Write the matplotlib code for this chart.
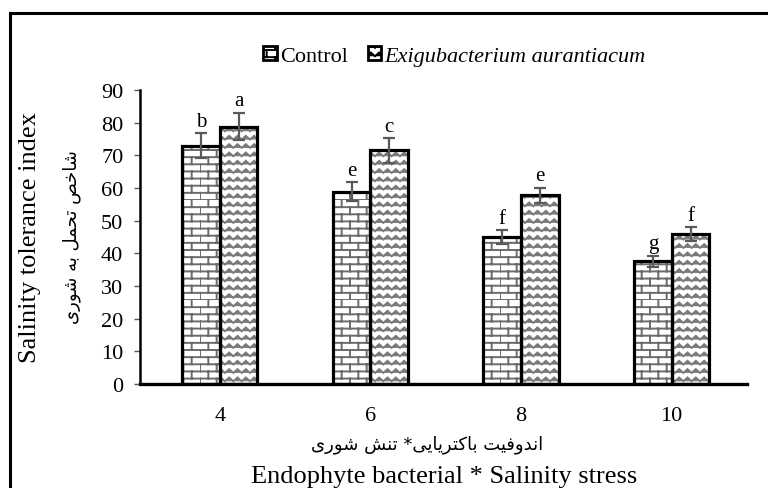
import warnings
import numpy as np
import matplotlib
matplotlib.use("Agg")
import matplotlib.pyplot as plt
from matplotlib import hatch as mhatch
from matplotlib.path import Path
from matplotlib.patches import Patch
from matplotlib.lines import Line2D

warnings.filterwarnings("ignore")

## data
salinity = ["4", "6", "8", "10"]
control = [73.0, 58.8, 45.0, 37.6]
control_err = [3.7, 2.9, 2.1, 1.7]
control_letters = ["b", "e", "f", "g"]
exig = [78.8, 71.5, 57.8, 45.9]
exig_err = [4.2, 3.7, 2.3, 2.1]
exig_letters = ["a", "c", "e", "f"]
series_names = ["Control", "Exigubacterium aurantiacum"]
yticks = [0, 10, 20, 30, 40, 50, 60, 70, 80, 90]


## custom hatches: excel style bricks ('k') and zig zag ('z')
class BrickHatch(mhatch.HatchPatternBase):
    def __init__(self, hatch, density):
        n = hatch.count('k')
        self.rows = 13 * n + (13 * n) % 2
        self.cols = 6 * n
        self.num_vertices = (self.rows + self.rows * self.cols) * 2

    def set_vertices_and_codes(self, vertices, codes):
        v = []
        for i in range(self.rows):
            y0 = i / self.rows
            y1 = (i + 1) / self.rows
            v += [(0, y0), (1, y0)]
            off = 0.5 / self.cols if i % 2 else 0.0
            for j in range(self.cols):
                xx = j / self.cols + off
                v += [(xx, y0), (xx, y1)]
        vertices[:] = v
        codes[0::2] = Path.MOVETO
        codes[1::2] = Path.LINETO


class ZigzagHatch(mhatch.HatchPatternBase):
    def __init__(self, hatch, density):
        n = hatch.count('z')
        self.rows = 12 * n
        self.teeth = 12 * n
        self.num_vertices = self.rows * (2 * self.teeth + 1)

    def set_vertices_and_codes(self, vertices, codes):
        xs = np.linspace(0, 1, 2 * self.teeth + 1)
        amp = 0.45 / max(self.rows, 1)
        m = len(xs)
        k = 0
        for i in range(self.rows):
            y = (i + 0.25) / self.rows
            vertices[k:k + m, 0] = xs
            vertices[k:k + m, 1] = y + amp * (np.arange(m) % 2)
            codes[k] = Path.MOVETO
            codes[k + 1:k + m] = Path.LINETO
            k += m


mhatch._hatch_types.append(BrickHatch)
mhatch._hatch_types.append(ZigzagHatch)


def shape(codes):
    ## presentation forms in logical order -> visual order
    return "".join(chr(c) if isinstance(c, int) else c for c in codes)[::-1]


ylab_fa = shape([0xFEB7, 0xFE8E, 0xFEA7, 0xFEBA, " ", 0xFE97, 0xFEA4, 0xFEE4, 0xFEDE, " ",
                 0xFE91, 0xFEEA, " ", 0xFEB7, 0xFEEE, 0xFEAD, 0xFBFC])
xlab_fa = shape([0xFE8D, 0xFEE7, 0xFEAA, 0xFEED, 0xFED3, 0xFBFF, 0xFE96, " ",
                 0xFE91, 0xFE8E, 0xFB90, 0xFE98, 0xFEAE, 0xFBFE, 0xFE8E, 0xFBFE, 0xFBFD, "*", " ",
                 0xFE97, 0xFEE8, 0xFEB6, " ", 0xFEB7, 0xFEEE, 0xFEAD, 0xFBFC])

plt.rcParams['font.family'] = ['Liberation Serif', 'DejaVu Serif']
plt.rcParams['hatch.linewidth'] = 1.4

fig = plt.figure(figsize=(7.68, 4.89), dpi=100)
ax = fig.add_axes([0.1823, 0.2127, 0.7904, 0.6012])

x = np.arange(len(salinity))
w = 0.25

## fills with grey hatch, then black outlines on top
ax.bar(x - w / 2, control, w, color='white', edgecolor='#6b6b6b', hatch='k', linewidth=0, zorder=2)
ax.bar(x + w / 2, exig, w, color='white', edgecolor='#7a7a7a', hatch='z', linewidth=0, zorder=2)
ax.bar(x - w / 2, control, w, fill=False, edgecolor='black', linewidth=2.3, zorder=3)
ax.bar(x + w / 2, exig, w, fill=False, edgecolor='black', linewidth=2.3, zorder=3)

ax.errorbar(x - w / 2, control, yerr=control_err, fmt='none', ecolor='#595959',
            elinewidth=1.6, capsize=4.5, capthick=1.6, zorder=5)
ax.errorbar(x + w / 2, exig, yerr=exig_err, fmt='none', ecolor='#595959',
            elinewidth=1.6, capsize=4.5, capthick=1.6, zorder=5)

for xi, v, e, t in zip(x - w / 2, control, control_err, control_letters):
    ax.text(xi, v + e + 0.8, t, ha='center', va='bottom', fontsize=15)
for xi, v, e, t in zip(x + w / 2, exig, exig_err, exig_letters):
    ax.text(xi, v + e + 0.8, t, ha='center', va='bottom', fontsize=15)

ax.set_xlim(-0.53, 3.5)
ax.set_ylim(0, 90)
ax.set_yticks(yticks)
ax.set_xticks(x)
ax.set_xticklabels(salinity)
ax.tick_params(axis='y', labelsize=16, length=4, width=1, color='#595959', pad=8)
ax.tick_params(axis='x', labelsize=16, length=0, pad=16)
for s in ['top', 'right']:
    ax.spines[s].set_visible(False)
ax.spines['left'].set_linewidth(1.8)
ax.spines['bottom'].set_linewidth(2.4)
ax.spines['bottom'].set_zorder(4)

handles = [Patch(facecolor='white', edgecolor='black', linewidth=2, hatch='k'),
           Patch(facecolor='white', edgecolor='black', linewidth=2, hatch='z')]
leg = ax.legend(handles, series_names, ncol=2, frameon=False, fontsize=16,
                loc='center', bbox_to_anchor=(0.592, 0.884), bbox_transform=fig.transFigure,
                handlelength=0.6, handleheight=0.6, handletextpad=0.15, columnspacing=0.9)
leg.get_texts()[1].set_fontstyle('italic')

fig.text(0.039, 0.515, "Salinity tolerance index", rotation=90, ha='center', va='center', fontsize=19)
fig.text(0.094, 0.515, ylab_fa, rotation=90, ha='center', va='center', fontsize=13,
         family=['DejaVu Sans'])
fig.text(0.556, 0.090, xlab_fa, ha='center', va='center', fontsize=13, family=['DejaVu Sans'])
fig.text(0.578, 0.024, "Endophyte bacterial * Salinity stress", ha='center', va='center', fontsize=19)

## frame lines of the original figure box
fig.add_artist(Line2D([0.013, 0.013], [0, 0.971], color='black', linewidth=2.2, transform=fig.transFigure))
fig.add_artist(Line2D([0.013, 1.0], [0.971, 0.971], color='black', linewidth=2.2, transform=fig.transFigure))

fig.savefig("out.png", dpi=100)
